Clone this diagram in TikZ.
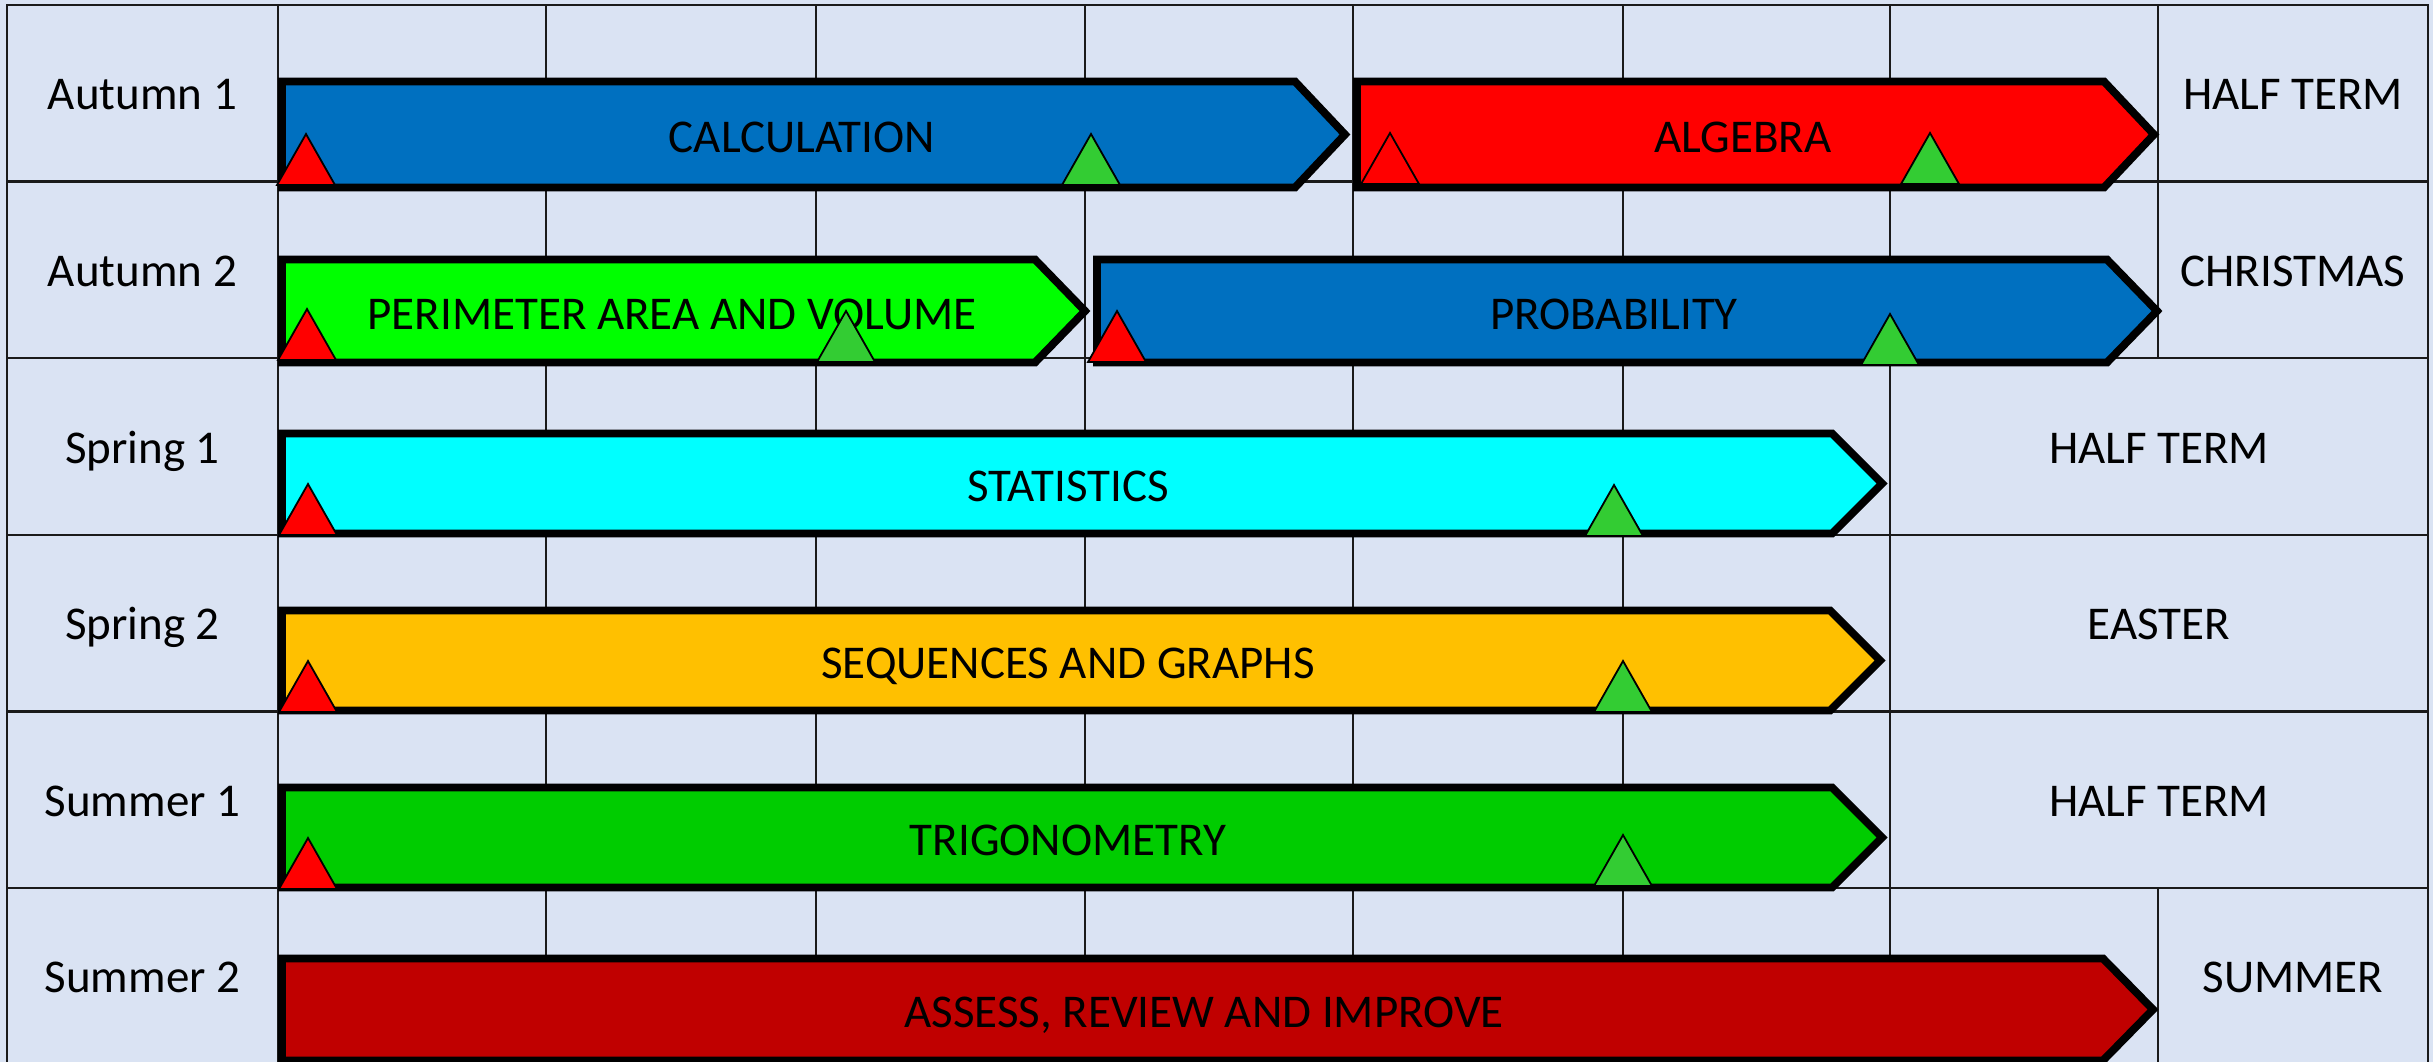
\documentclass[tikz,border=0pt]{standalone}
\usepackage{fontspec}
\setmainfont{Carlito}
\definecolor{bgblue}{HTML}{DAE3F3}
\definecolor{gridline}{HTML}{1A1A1A}
\definecolor{calcblue}{HTML}{0070C0}
\definecolor{algred}{HTML}{FF0000}
\definecolor{perigreen}{HTML}{00FF00}
\definecolor{statcyan}{HTML}{00FFFF}
\definecolor{seqorange}{HTML}{FFC000}
\definecolor{trigreen}{HTML}{00CC00}
\definecolor{assessred}{HTML}{C00000}
\definecolor{mred}{HTML}{FF0000}
\definecolor{mgreen}{HTML}{33CC33}
\newcommand\topicarrow[8]{%
  \draw[arrowbar, fill=#2] (#3,#5) -- ({#4-50},#5) -- (#4,{(#5+#6)/2}) -- ({#4-50},#6) -- (#3,#6) -- cycle;
  \node[topic] (#1) at (#7,{(#5+#6)/2+18}) {#8};}
\newcommand\milestone[3]{%
  \draw[tri, fill=#1] ({#2-29},#3) -- (#2,{#3-51}) -- ({#2+29},#3) -- cycle;}
\begin{document}
\begin{tikzpicture}[x=1pt,y=-1pt,
  gridstyle/.style={draw=gridline, line width=2.5pt},
  arrowbar/.style={draw=black, line width=7.8pt, miter limit=10},
  tri/.style={draw=black, line width=1.8pt, line join=miter},
  topic/.style={anchor=base, inner sep=0pt, font=\fontsize{47}{56}\selectfont},
  lbl/.style={anchor=base, inner sep=0pt, font=\fontsize{47}{56}\selectfont}]
\useasboundingbox (0,0) rectangle (2433,1062);
\fill[bgblue] (0,0) rectangle (2433,1062);
% grid
\foreach \yy in {181.6,358.2,534.8,711.4,888} \draw[gridstyle] (7,\yy) -- (2428,\yy);
\foreach \xx in {278,546,816,1085,1353,1623,1890} \draw[gridstyle] (\xx,5) -- (\xx,1075);
\draw[gridstyle] (2158,5) -- (2158,358.2);
\draw[gridstyle] (2158,888) -- (2158,1075);
\draw[gridstyle] (7,1075) -- (7,5) -- (2428,5) -- (2428,1075);
% row labels
\node[lbl] (a1) at (142.5,110) {Autumn 1};
\node[lbl] (a2) at (142.5,286) {Autumn 2};
\node[lbl] (s1) at (142.5,463) {Spring 1};
\node[lbl] (s2) at (142.5,639) {Spring 2};
\node[lbl] (u1) at (142.5,816) {Summer 1};
\node[lbl] (u2) at (142.5,992) {Summer 2};
% holidays
\node[lbl] (h1) at (2293,110) {HALF TERM};
\node[lbl] (h2) at (2293,286) {CHRISTMAS};
\node[lbl] (h3) at (2159,463) {HALF TERM};
\node[lbl] (h4) at (2159,639) {EASTER};
\node[lbl] (h5) at (2159,816) {HALF TERM};
\node[lbl] (h6) at (2293,992) {SUMMER};
% topic arrows
\topicarrow{calc}{calcblue}{282}{1345}{81.5}{187.5}{802}{CALCULATION}
\topicarrow{alg}{algred}{1357}{2154}{81.5}{187.5}{1743}{ALGEBRA}
\topicarrow{peri}{perigreen}{282}{1085}{259.5}{362.5}{672}{PERIMETER AREA AND VOLUME}
\topicarrow{prob}{calcblue}{1097}{2157}{259.5}{362.5}{1614}{PROBABILITY}
\topicarrow{stat}{statcyan}{282}{1882}{433.5}{533.5}{1068}{STATISTICS}
\topicarrow{seq}{seqorange}{282}{1880}{610.5}{710.5}{1068}{SEQUENCES AND GRAPHS}
\topicarrow{trig}{trigreen}{282}{1882}{787.5}{887.5}{1068}{TRIGONOMETRY}
\topicarrow{assess}{assessred}{282}{2153}{958.5}{1060.5}{1204}{ASSESS, REVIEW AND IMPROVE}
% milestones
\milestone{mred}{306}{185}
\milestone{mgreen}{1091}{185}
\milestone{mred}{1390}{184}
\milestone{mgreen}{1930}{184}
\milestone{mred}{307}{360}
\milestone{mgreen}{846}{362}
\milestone{mred}{1117}{362}
\milestone{mgreen}{1890}{365}
\milestone{mred}{308}{535}
\milestone{mgreen}{1614}{536}
\milestone{mred}{308}{712}
\milestone{mgreen}{1623}{712}
\milestone{mred}{308}{889}
\milestone{mgreen}{1623}{886}
\end{tikzpicture}
\end{document}
